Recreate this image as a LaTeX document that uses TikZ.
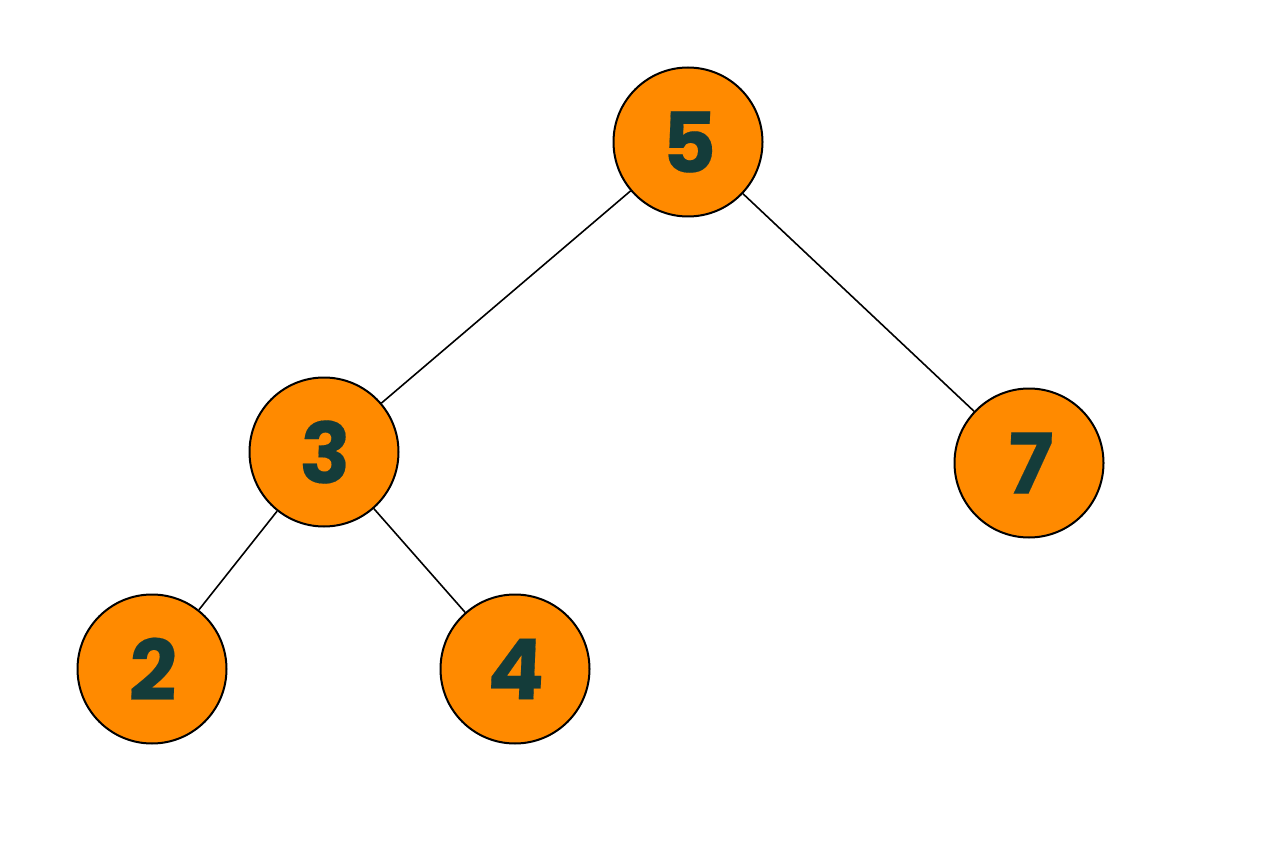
\documentclass[tikz,border=0pt]{standalone}
\usepackage{fontspec}
\newfontfamily\digitfont[FakeSlant=0.04,FakeBold=0.2]{Poppins Bold}
\definecolor{nodeorange}{HTML}{FF8A00}
\definecolor{digitteal}{HTML}{143C3A}
\begin{document}
\begin{tikzpicture}[x=1pt,y=-1pt,
  treenode/.style={circle, draw=black, line width=2pt, fill=nodeorange, minimum size=149pt, inner sep=0pt,
    font=\digitfont\fontsize{84}{84}\selectfont, text=digitteal},
  edge/.style={draw=black, line width=1.6pt}]
\useasboundingbox (0,0) rectangle (1280,853);
\node[treenode] (n5) at (688,142) {5};
\node[treenode] (n3) at (324,452) {3};
\node[treenode] (n7) at (1029,463) {7};
\node[treenode] (n2) at (152,669) {2};
\node[treenode] (n4) at (515,669) {4};
\draw[edge] (n5) -- (n3);
\draw[edge] (n5) -- (n7);
\draw[edge] (n3) -- (n2);
\draw[edge] (n3) -- (n4);
\end{tikzpicture}
\end{document}
